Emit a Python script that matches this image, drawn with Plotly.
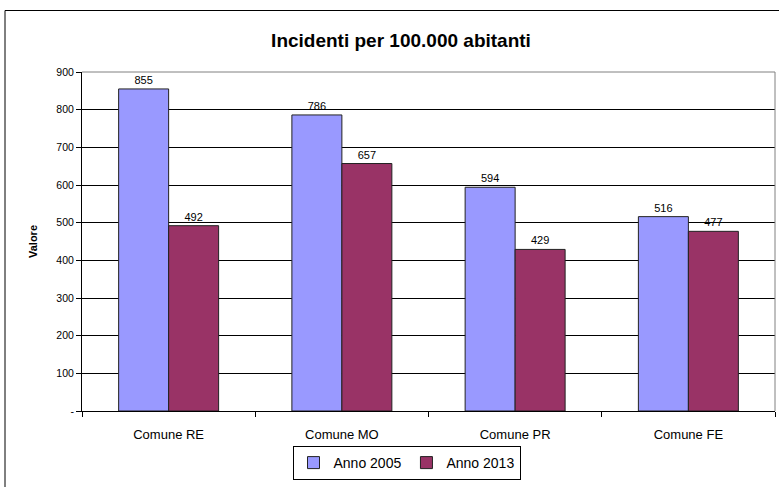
import plotly.graph_objects as go

categories = ["Comune RE", "Comune MO", "Comune PR", "Comune FE"]
anno_2005 = [855, 786, 594, 516]
anno_2013 = [492, 657, 429, 477]
tick_vals = [0, 100, 200, 300, 400, 500, 600, 700, 800, 900]
tick_text = ["-", "100", "200", "300", "400", "500", "600", "700", "800", "900"]

FONT = "Liberation Sans, Arial, sans-serif"
W, H = 779, 487
L, R, T, B = 82, 4, 72, 76
pw, ph = W - L - R, H - T - B

fig = go.Figure()
fig.add_trace(go.Bar(name="Anno 2005", x=categories, y=anno_2005,
                     marker=dict(color="#9999FF", line=dict(color="#222222", width=1)),
                     text=[str(v) for v in anno_2005], textposition="outside",
                     textfont=dict(size=11, color="black", family=FONT), cliponaxis=False))
fig.add_trace(go.Bar(name="Anno 2013", x=categories, y=anno_2013,
                     marker=dict(color="#993366", line=dict(color="#222222", width=1)),
                     text=[str(v) for v in anno_2013], textposition="outside",
                     textfont=dict(size=11, color="black", family=FONT), cliponaxis=False))

fig.update_layout(
    width=W, height=H,
    margin=dict(l=L, r=R, t=T, b=B, pad=0),
    paper_bgcolor="white", plot_bgcolor="white",
    font=dict(family=FONT, color="black"),
    barmode="group", bargap=0.423, bargroupgap=0,
    title=dict(text="<b>Incidenti per 100.000 abitanti</b>", x=401 / W, xanchor="center",
               y=1 - 40 / H, yanchor="middle", font=dict(size=19, family=FONT, color="black")),
    showlegend=True,
    legend=dict(orientation="h", x=(406.5 - L) / pw, xanchor="center",
                y=-(463 - T - ph) / ph, yanchor="middle",
                bordercolor="black", borderwidth=1, bgcolor="white",
                font=dict(size=14, family=FONT, color="black"),
                itemwidth=30, tracegroupgap=0),
)
fig.update_xaxes(showline=True, linecolor="black", linewidth=1, mirror=False,
                 ticks="outside", tickson="boundaries", ticklen=5, tickcolor="black",
                 ticklabelstandoff=11,
                 tickfont=dict(size=13, family=FONT, color="black"), showgrid=False)
fig.update_yaxes(range=[0, 900], tickvals=tick_vals, ticktext=tick_text,
                 showline=True, linecolor="black", linewidth=1,
                 ticks="outside", ticklen=5, tickcolor="black",
                 tickfont=dict(size=10.5, family=FONT, color="black"),
                 showgrid=True, gridcolor="black", gridwidth=1, zeroline=False,
                 title=dict(text="<b>Valore</b>", font=dict(size=11, family=FONT, color="black"), standoff=16))

# plot area top/right border (gray) and outer chart border
fig.add_shape(type="line", xref="paper", yref="paper", x0=0, x1=1, y0=1, y1=1,
              line=dict(color="#808080", width=1))
fig.add_shape(type="line", xref="paper", yref="paper", x0=1, x1=1, y0=0, y1=1,
              line=dict(color="#808080", width=1))
fig.add_shape(type="rect", xref="paper", yref="paper",
              x0=(5 - L) / pw, x1=(W + 10 - L) / pw,
              y0=-(H + 10 - T - ph) / ph, y1=1 + (T - 10.5) / ph,
              line=dict(color="black", width=1), fillcolor="rgba(0,0,0,0)", layer="below")

fig.write_html("out.html")
